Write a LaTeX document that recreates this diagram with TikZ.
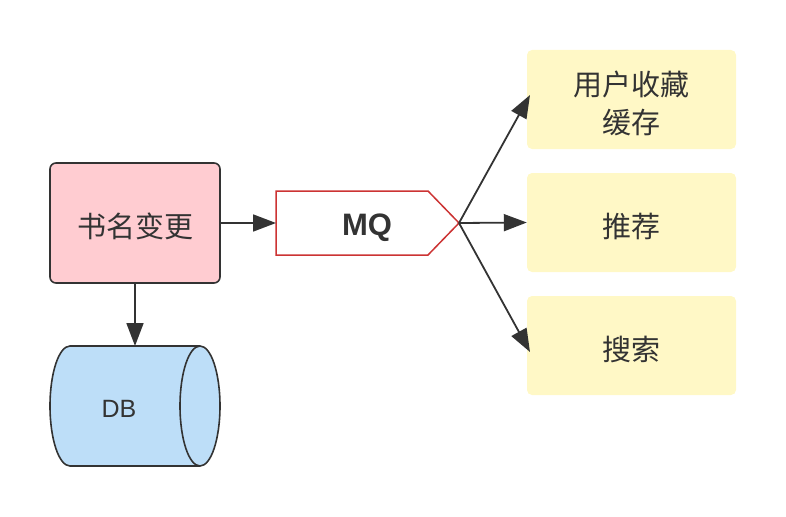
\documentclass[tikz,border=0pt]{standalone}
\usepackage{fontspec}
\setmainfont{Noto Sans CJK SC}
\newfontfamily\latinfont{Liberation Sans}
\usetikzlibrary{arrows.meta,shapes.geometric}
\definecolor{pinkfill}{HTML}{FFCCD1}
\definecolor{yellowfill}{HTML}{FFF8C6}
\definecolor{bluefill}{HTML}{BDDEF8}
\definecolor{darkline}{HTML}{333333}
\definecolor{mqred}{HTML}{CC3333}
\tikzset{
  conn/.style={draw=darkline,line width=1.8pt,-{Triangle[length=23pt,width=17pt]}},
  cnlabel/.style={text=darkline,font=\fontsize{29}{38}\selectfont,align=center},
  ybox/.style={fill=yellowfill,draw=none,rounded corners=5pt,minimum width=209pt,minimum height=99pt,cnlabel},
  txt/.style={text=darkline,inner sep=0pt}
}
\begin{document}
\begin{tikzpicture}[x=1pt,y=-1pt]
\useasboundingbox (0,0) rectangle (786,516);
% pink box
\node[draw=darkline,line width=1.6pt,fill=pinkfill,rounded corners=6pt,minimum width=170pt,minimum height=120pt] (book) at (135,223) {};
\node[txt,cnlabel] (booktxt) at (135,226) {书名变更};
% MQ pentagon
\draw[draw=mqred,line width=1.5pt,fill=white] (276,191) -- (428,191) -- (459,223) -- (428,255) -- (276,255) -- cycle;
\node[txt,font=\latinfont\bfseries\fontsize{31}{36}\selectfont] (mq) at (367,228) {MQ};
\coordinate (mqin) at (276,223);
\coordinate (mqtip) at (459,223);
% yellow boxes
\node[ybox] (fav) at (631.5,99.5) {};
\node[ybox] (rec) at (631.5,222.5) {};
\node[ybox] (sea) at (631.5,345.5) {};
\node[txt,cnlabel] (favtxt) at (631.5,103.5) {用户收藏\\缓存};
\node[txt,cnlabel] (rectxt) at (631.5,226) {推荐};
\node[txt,cnlabel] (seatxt) at (631.5,349) {搜索};
\coordinate (favin) at (530,95);
\coordinate (seain) at (530,352);
% DB cylinder
\draw[draw=darkline,line width=1.6pt,fill=bluefill] (70,346) -- (200,346) arc[start angle=-90,end angle=90,x radius=20,y radius=60] -- (70,466) arc[start angle=90,end angle=270,x radius=20,y radius=60] -- cycle;
\draw[draw=darkline,line width=1.6pt] (200,346) arc[start angle=-90,end angle=-270,x radius=20,y radius=60];
\node[txt,font=\latinfont\fontsize{25}{30}\selectfont] (db) at (119,409) {DB};
\coordinate (dbtop) at (135,346);
% connectors
\draw[conn] (book.east) -- (mqin);
\draw[conn] (book.south) -- (dbtop);
\draw[conn] (mqtip) -- (favin);
\draw[conn] (mqtip) -- (rec.west);
\draw[conn] (mqtip) -- (seain);
\end{tikzpicture}
\end{document}
